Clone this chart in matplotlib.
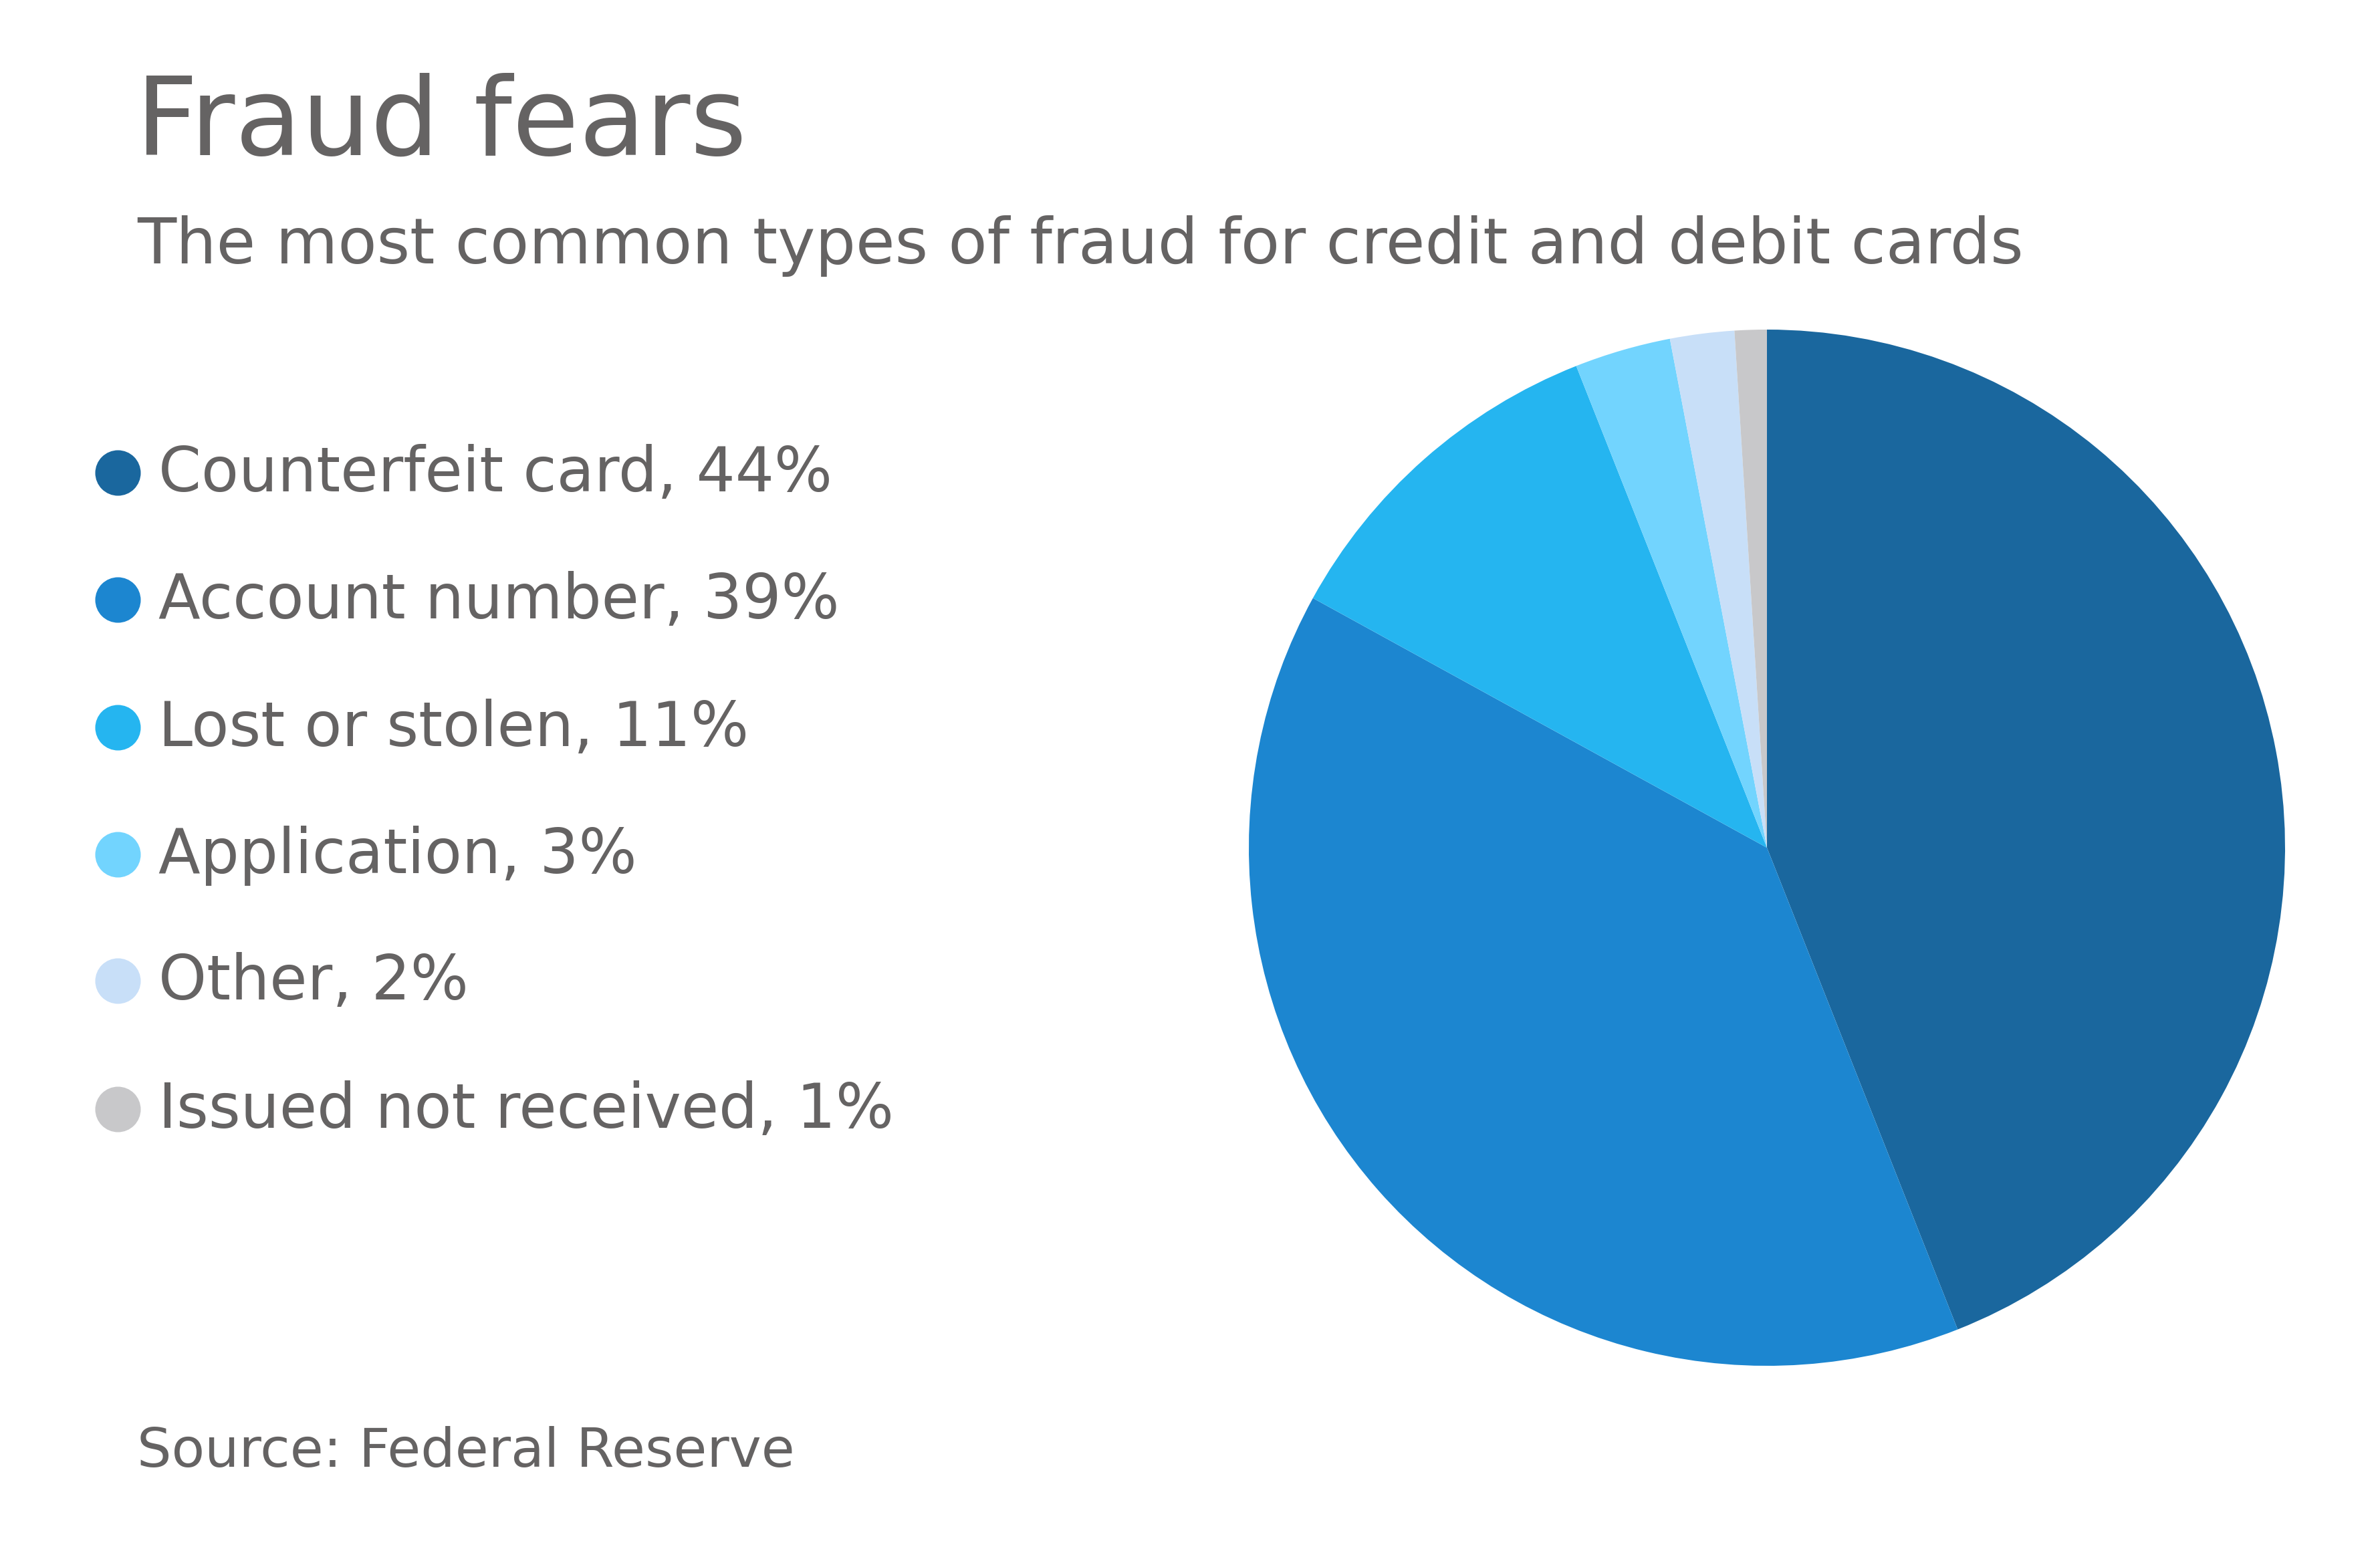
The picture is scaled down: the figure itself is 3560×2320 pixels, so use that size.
import matplotlib
matplotlib.use("Agg")
import matplotlib.pyplot as plt

plt.rcParams['font.family'] = ['DejaVu Sans']

labels = ['Counterfeit card', 'Account number', 'Lost or stolen',
          'Application', 'Other', 'Issued not received']
shares = [44, 39, 11, 3, 2, 1]
colors = ['#1a679e', '#1c86d0', '#25b5f0', '#72d4fe', '#c8dff8', '#c8c8ca']

title = 'Fraud fears'
subtitle = 'The most common types of fraud for credit and debit cards'
source = 'Source: Federal Reserve'
grey = '#656363'

W, H = 3560, 2320
fig = plt.figure(figsize=(W / 200, H / 200), dpi=200)
fig.patch.set_facecolor('white')

# pie: centre (2643, 1268) px, radius 775 px
cx, cy, r = 2643, 1268, 775
ax = fig.add_axes([(cx - r) / W, (H - cy - r) / H, 2 * r / W, 2 * r / H])
ax.pie(shares, colors=colors, startangle=90, counterclock=False, radius=1,
       wedgeprops=dict(linewidth=0))
ax.set_xlim(-1, 1)
ax.set_ylim(-1, 1)
ax.set_aspect('equal')
ax.axis('off')

# overlay in pixel coordinates for text and legend
ov = fig.add_axes([0, 0, 1, 1], zorder=-1)
ov.set_xlim(0, W)
ov.set_ylim(H, 0)
ov.axis('off')

ov.text(203, 232, title, fontsize=58.5, color=grey, va='baseline', ha='left')
ov.text(205, 394, subtitle, fontsize=34.3, color=grey, va='baseline', ha='left')

row_y = [707, 897, 1088, 1278, 1467, 1659]
for lab, val, col, y in zip(labels, shares, colors, row_y):
    ov.scatter([176], [y], s=600, color=col, linewidths=0)
    ov.text(237, y + 28, f'{lab}, {val}%', fontsize=33, color=grey,
            va='baseline', ha='left')

ov.text(205, 2194, source, fontsize=29.2, color=grey, va='baseline', ha='left')

fig.savefig('out.png', dpi=200, facecolor='white')
